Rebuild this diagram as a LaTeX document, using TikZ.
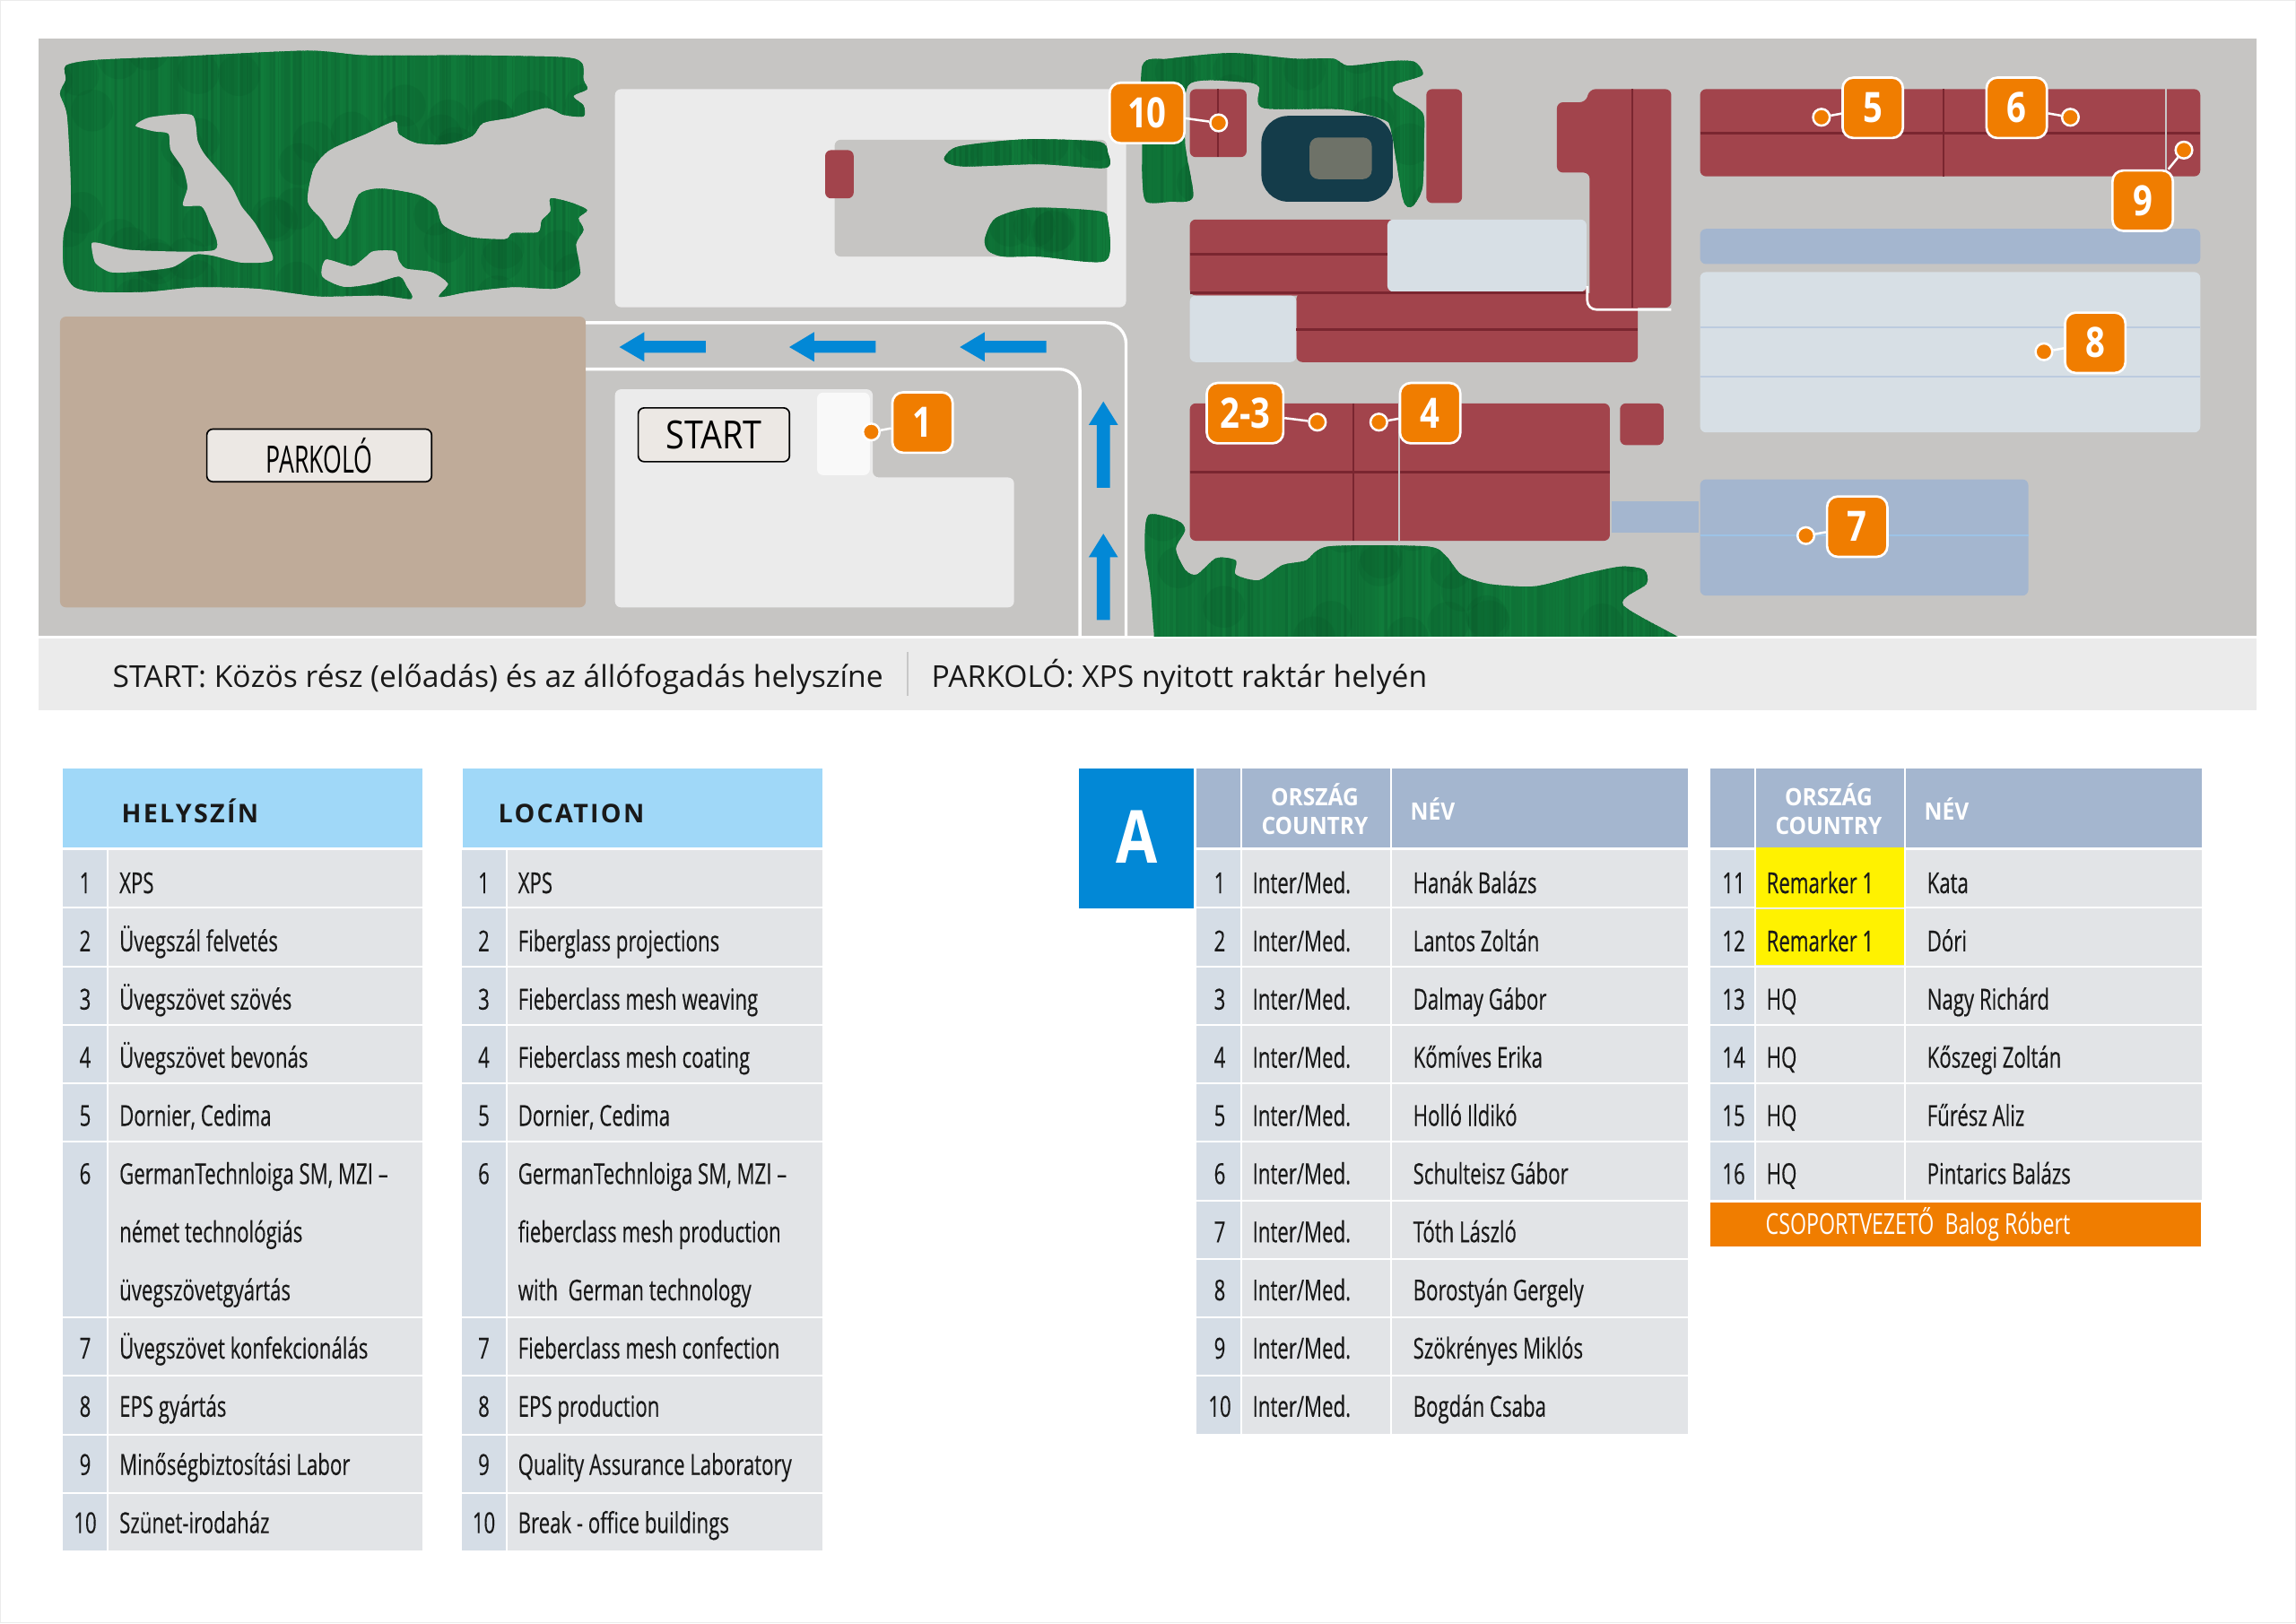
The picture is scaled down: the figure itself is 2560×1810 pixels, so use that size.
\documentclass[tikz,border=0pt]{standalone}
\usepackage{fontspec}
\setmainfont[FakeStretch=0.69,FakeBold=0.25]{Open Sans}
\newfontfamily\hdfont[LetterSpace=8]{Open Sans}
\newfontfamily\numfont[FakeStretch=0.82]{Open Sans}
\newfontfamily\bandfont{Open Sans}
\newfontfamily\colfont[FakeStretch=0.92]{Open Sans}
\newfontfamily\signAfont[FakeStretch=0.636]{Open Sans}
\newfontfamily\signBfont[FakeStretch=0.87]{Open Sans}
\newfontfamily\leadfont[FakeStretch=0.72]{Open Sans}
\definecolor{mapbg}{HTML}{C6C5C3}
\definecolor{band}{HTML}{EBEBEB}
\definecolor{brown}{HTML}{BFAB99}
\definecolor{rd}{HTML}{A2444C}
\definecolor{rdd}{HTML}{7A2630}
\definecolor{pale}{HTML}{D7DFE5}
\definecolor{blu}{HTML}{A4B6CF}
\definecolor{blul}{HTML}{BCCBDF}
\definecolor{lineseven}{HTML}{9DC3E6}
\definecolor{stad}{HTML}{143C4A}
\definecolor{stadin}{HTML}{6E7268}
\definecolor{arrowb}{HTML}{0288D6}
\definecolor{org}{HTML}{F07D00}
\definecolor{hdr}{HTML}{A0D8F8}
\definecolor{cnum}{HTML}{D5DDE6}
\definecolor{ctxt}{HTML}{E2E4E7}
\definecolor{yel}{HTML}{FFF200}
\definecolor{gA}{HTML}{0D6A33}
\definecolor{gB}{HTML}{107C3B}
\definecolor{gD}{HTML}{064A24}
\definecolor{thinline}{HTML}{C8C8C8}
\definecolor{signfill}{HTML}{ECE8E4}
\tikzset{
  zA/.style={x=0.2449pt,y=-0.1569pt},
  zB/.style={x=0.2602pt,y=-0.1569pt,xshift=360pt},
  rc/.style={rounded corners=2pt},
  road/.style={draw=white,line width=1pt,rounded corners=7pt},
  marklabel/.style={fill=org,draw=white,line width=0.8pt,rounded corners=3.6pt,text=white,yshift=-0.45pt,
     font=\numfont\bfseries\fontsize{14}{14}\selectfont,minimum height=20.2pt,minimum width=20.2pt,inner sep=0pt,text height=10pt,text depth=0pt},
  markdot/.style={circle,fill=org,draw=white,line width=0.75pt,minimum size=5.6pt,inner sep=0pt},
  markline/.style={draw=white,line width=0.75pt},
  signbox/.style={draw=black,fill=signfill,line width=0.5pt,rounded corners=2pt,inner sep=0pt},
  bandtxt/.style={anchor=base west,inner sep=0pt,font=\bandfont\fontsize{10.1}{12}\selectfont,text=black!90},
  celltxt/.style={anchor=base west,inner sep=0pt,font=\fontsize{9.66}{11}\selectfont,text=black!90},
  numtxt/.style={anchor=base,inner sep=0pt,font=\fontsize{9.66}{11}\selectfont,text=black!90},
  headtxt/.style={anchor=base west,inner sep=0pt,font=\hdfont\bfseries\fontsize{8.6}{11}\selectfont,text=black!90},
  colhead/.style={inner sep=0pt,font=\colfont\fontsize{8.0}{10}\bfseries\selectfont,text=white},
}
% forest blob with vertical mottled stripes, in the current coordinate system
\newcommand{\greenblob}[5]{% xmin xmax ymin ymax points
  \begin{scope}
    \clip plot[smooth cycle,tension=.45] coordinates {#5};
    \fill[gA!50!gB] (#1,#3) rectangle (#2,#4);
    \pgfmathsetmacro\sxnext{int(#1+4)}%
    \foreach \sx in {#1,\sxnext,...,#2}{%
      \pgfmathsetmacro\myr{int(rnd*100)}%
      \draw[color=gA!\myr!gB,line width=0.8pt] (\sx,#3) -- (\sx,#4);
    }
    \pgfmathsetmacro\nblot{int((#2-#1)/80*(#4-#3)/100)+2}%
    \foreach \i in {1,...,\nblot}{%
      \pgfmathsetmacro\px{#1+rnd*(#2-#1)}%
      \pgfmathsetmacro\py{#3+rnd*(#4-#3)}%
      \fill[gD,opacity=.13] (\px,\py) circle[radius=7pt];
    }
  \end{scope}}
\newcommand{\rowbg}[6]{%
  \pgfmathsetmacro\ytop{948+65.25*(#5-1)}%
  \pgfmathsetmacro\ybot{\ytop+65.25*#6-2}%
  \fill[cnum] (#1,\ytop) rectangle (#2,\ybot);
  \fill[ctxt] (#3,\ytop) rectangle (#4,\ybot);}
\newcommand{\basey}[1]{\pgfmathsetmacro\yb{996+64.87*(#1-1)}}
% location table row: id, table x offset, row, span, number, text
\newcommand{\locrow}[6]{%
  \rowbg{#2+70}{#2+119}{#2+121}{#2*1.0045+470.5}{#3}{#4}%
  \basey{#3}%
  \node[numtxt] (#1n) at (#2+95,\yb) {#5};
  \node[celltxt] (#1t) at (#2+132.5,\yb) {#6};}
\newcommand{\locmore}[4]{% id, offset, row, text
  \basey{#3}\node[celltxt] (#1) at (#2+132.5,\yb) {#4};}
% people row: id, table left x, row, number, country, name
\newcommand{\pplrow}[6]{%
  \rowbg{#2}{#2+49}{#2+51}{#2+216}{#3}{1}%
  \pgfmathsetmacro\ytop{948+65.25*(#3-1)}%
  \pgfmathsetmacro\ybot{\ytop+65.25-2}%
  \fill[ctxt] (#2+218,\ytop) rectangle (#2+548,\ybot);
  \basey{#3}%
  \node[numtxt] (#1n) at (#2+26,\yb) {#4};
  \node[celltxt] (#1c) at (#2+62,\yb) {#5};
  \node[celltxt] (#1v) at (#2+241,\yb) {#6};}
\newcommand{\pplhead}[2]{%
  \fill[blu] (#2,857) rectangle (#2+49,945);
  \fill[blu] (#2+51,857) rectangle (#2+216,945);
  \fill[blu] (#2+218,857) rectangle (#2+548,945);
  \node[colhead,anchor=base] (#1a) at (#2+132,898) {ORSZÁG};
  \node[colhead,anchor=base] (#1b) at (#2+132,930) {COUNTRY};
  \node[colhead,anchor=base west] (#1c) at (#2+238,914) {NÉV};}
\begin{document}
\begin{tikzpicture}[x=0.3pt,y=-0.3pt]
\useasboundingbox (0,0) rectangle (2560,1810);
\pgfmathsetseed{7}
\fill[white] (0,0) rectangle (2560,1810);
\draw[color=black!8,line width=0.4pt] (0.7,0.7) rectangle (2559.3,1809.3);
% map background and band
\fill[mapbg] (43,43) rectangle (2516,709);
\fill[band] (43,712) rectangle (2516,792);
\draw[color=black!22,line width=0.5pt] (1012,727) -- (1012,776);
\node[bandtxt] (bandA) at (125,766) {START: Közös rész (előadás) és az állófogadás helyszíne};
\node[bandtxt] (bandB) at (1038,766) {PARKOLÓ: XPS nyitott raktár helyén};

\begin{scope}[zA]
  % left forest
  \greenblob{70}{810}{100}{640}{(90,140) (130,128) (250,120) (420,108) (500,118) (640,118) (770,122) (795,135) (797,170) (802,190) (783,205) (797,225) (797,248) (770,245) (745,230) (700,250) (660,262) (645,290) (610,307) (570,305) (545,285) (540,258) (500,285) (450,320) (428,360) (420,430) (440,470) (458,510) (475,480) (490,415) (520,402) (570,415) (595,440) (605,480) (640,505) (690,510) (700,497) (735,495) (740,470) (752,450) (752,423) (780,432) (802,448) (790,465) (797,490) (787,520) (792,570) (790,590) (760,615) (700,612) (640,622) (600,633) (612,605) (590,580) (555,572) (545,555) (540,535) (510,535) (497,550) (480,567) (445,553) (440,590) (470,612) (510,605) (545,590) (555,610) (562,637) (520,630) (440,632) (400,625) (350,615) (270,612) (200,622) (130,622) (100,610) (87,570) (87,500) (97,430) (92,250) (82,200) (90,170)}
  \fill[mapbg] plot[smooth cycle,tension=.4] coordinates {(185,268) (205,250) (262,245) (270,300) (280,330) (315,395) (330,440) (350,480) (373,553) (330,560) (290,545) (265,543) (235,570) (180,580) (150,580) (130,560) (125,520) (135,518) (180,533) (293,533) (285,470) (275,440) (250,438) (256,400) (250,360) (233,320) (230,285) (210,280)};
  % parking
  \fill[brown,rc] (82,675) rectangle (800,1295);
  % middle white area
  \fill[band,rc] (840,190) rectangle (1538,655);
  \fill[mapbg,rc] (1140,298) rectangle (1512,547);
  \fill[rd,rc] (1127,320) rectangle (1166,423);
  \greenblob{1280}{1520}{290}{365}{(1290,335) (1310,312) (1400,297) (1500,302) (1513,325) (1510,358) (1420,350) (1320,355) (1295,348)}
  \greenblob{1340}{1520}{440}{560}{(1345,510) (1360,465) (1410,443) (1500,450) (1513,470) (1510,556) (1420,547) (1370,547) (1350,535)}
  % roads
  \draw[road] (800,688) -- (1538,688) -- (1538,1356);
  \draw[road] (800,787) -- (1475,787) -- (1475,1356);
  % arrows
  \foreach \tx in {846,1078,1311}{
    \fill[arrowb] (\tx,740) -- (\tx+34,708) -- (\tx+34,727) -- (\tx+118,727) -- (\tx+118,752) -- (\tx+34,752) -- (\tx+34,771) -- cycle;
  }
  \foreach \ty in {856,1138}{
    \fill[arrowb] (1507,\ty) -- (1527,\ty+50) -- (1516,\ty+50) -- (1516,\ty+184) -- (1498,\ty+184) -- (1498,\ty+50) -- (1487,\ty+50) -- cycle;
  }
  % start building
  \fill[band,rc] (840,830) -- (1192,830) -- (1192,1018) -- (1385,1018) -- (1385,1295) -- (840,1295) -- cycle;
  \fill[white,opacity=.75,rc] (1116,837) rectangle (1188,1013);
  % signs
  \node[signbox,font=\signAfont\fontsize{12.6}{13}\selectfont,minimum width=75.2pt,minimum height=17.6pt] (parkolo) at (436,971) {PARKOLÓ};
  \node[signbox,font=\signBfont\fontsize{13}{13}\selectfont,minimum width=50.6pt,minimum height=18pt] (start) at (975,927) {\raisebox{-0.6pt}{START}};
  % marker 1
  \node[marklabel] (m1) at (1260,898) {1};
  \node[markdot] (d1) at (1190,921) {};
  \draw[markline] (m1) -- (d1);
\end{scope}

\begin{scope}[zB]
  % bottom forest
  \begin{scope}
    \clip (0,1000) rectangle (900,1356);
    \greenblob{70}{800}{1090}{1360}{(93,1098) (130,1110) (140,1130) (128,1170) (140,1215) (155,1225) (180,1190) (205,1195) (205,1225) (235,1237) (265,1205) (295,1195) (325,1165) (450,1165) (475,1185) (495,1225) (530,1245) (590,1250) (650,1225) (700,1208) (730,1215) (733,1245) (703,1290) (790,1375) (790,1420) (100,1420) (100,1356) (95,1250) (88,1170)}
  \end{scope}
  % upper forest
  \greenblob{70}{460}{105}{445}{(85,140) (120,125) (200,113) (280,125) (330,125) (350,140) (405,130) (435,132) (445,160) (410,180) (410,200) (445,240) (447,300) (445,400) (432,440) (420,425) (405,280) (395,255) (340,233) (240,230) (235,185) (215,175) (145,180) (140,305) (150,420) (120,430) (90,430) (85,380) (85,300)}
  % buildings
  \fill[rd,rc] (146,190) rectangle (219,335);
  \draw[rdd,line width=0.5pt] (182,190) -- (182,335);
  \fill[rd,rc] (450,190) rectangle (496,433);
  \fill[stad,rounded corners=9pt] (238,247) rectangle (407,430);
  \fill[stadin,rounded corners=3pt] (300,293) rectangle (380,382);
  % big red complex
  \fill[rd,rc] (146,468) rectangle (410,630);
  \fill[rd,rc] (283,625) rectangle (722,772);
  \fill[rd] (400,600) rectangle (656,628);
  \fill[pale,rc] (400,468) rectangle (656,622);
  \fill[pale,rc] (146,630) rectangle (283,772);
  \draw[rdd,line width=0.9pt] (146,542) -- (400,542);
  \draw[rdd,line width=0.9pt] (146,625) -- (656,625);
  \draw[rdd,line width=0.9pt] (283,702) -- (722,702);
  % L-shape
  \draw[white,line width=0.8pt,rounded corners=3pt] (657,610) -- (657,660) -- (765,660);
  \fill[rd,rc] (660,190) -- (765,190) -- (765,656) -- (660,656) -- (660,368) -- (618,368) -- (618,218) -- (655,218) -- cycle;
  \draw[rdd,line width=0.7pt] (715,190) -- (715,656);
  % lower red building
  \fill[rd,rc] (146,860) rectangle (686,1153);
  \draw[rdd,line width=0.7pt] (356,860) -- (356,1153);
  \draw[rdd,line width=0.9pt] (146,1007) -- (686,1007);
  \draw[thinline,line width=0.7pt] (415,860) -- (415,1153);
  \fill[rd,rc] (699,860) rectangle (755,949);
  % 7
  \fill[blu] (688,1068) rectangle (800,1136);
  \fill[blu,rc] (802,1022) rectangle (1224,1270);
  \draw[color=lineseven,line width=0.7pt] (802,1141) -- (1224,1141);
  % 8
  \fill[blu,rc] (802,488) rectangle (1445,563);
  \fill[pale,rc] (802,580) rectangle (1445,922);
  \draw[blul,line width=0.7pt] (802,698) -- (1445,698);
  \draw[blul,line width=0.7pt] (802,803) -- (1445,803);
  % 5-6
  \fill[rd,rc] (802,190) rectangle (1445,376);
  \draw[rdd,line width=0.9pt] (802,283) -- (1445,283);
  \draw[rdd,line width=0.8pt] (1115,190) -- (1115,376);
  \draw[thinline,line width=0.8pt] (1401,190) -- (1401,376);
  % markers
  \node[marklabel,minimum width=25pt] (m10) at (91,238) {10};
  \node[markdot] (d10) at (183,262) {};
  \draw[markline] (m10) -- (d10);
  \node[marklabel] (m5) at (1024,227) {5};
  \node[markdot] (d5) at (958,250) {};
  \draw[markline] (m5) -- (d5);
  \node[marklabel] (m6) at (1209,227) {6};
  \node[markdot] (d6) at (1278,250) {};
  \draw[markline] (m6) -- (d6);
  \node[marklabel] (m9) at (1371,425) {9};
  \node[markdot] (d9) at (1424,320) {};
  \draw[markline] (m9) -- (d9);
  \node[marklabel] (m8) at (1310,728) {8};
  \node[markdot] (d8) at (1244,750) {};
  \draw[markline] (m8) -- (d8);
  \node[marklabel] (m7) at (1004,1120) {7};
  \node[markdot] (d7) at (938,1142) {};
  \draw[markline] (m7) -- (d7);
  \node[marklabel,minimum width=25.6pt] (m23) at (217,878) {2-3};
  \node[markdot] (d23) at (310,900) {};
  \draw[markline] (m23) -- (d23);
  \node[marklabel] (m4) at (455,878) {4};
  \node[markdot] (d4) at (389,900) {};
  \draw[markline] (m4) -- (d4);
\end{scope}

% location tables
\fill[hdr] (70,857) rectangle (470.5,945);
\fill[hdr] (516,857) rectangle (917,945);
\node[headtxt] (hdA) at (135,917) {HELYSZÍN};
\node[headtxt] (hdB) at (555,917) {LOCATION};
\locrow{a1}{0}{1}{1}{1}{XPS}
\locrow{a2}{0}{2}{1}{2}{Üvegszál felvetés}
\locrow{a3}{0}{3}{1}{3}{Üvegszövet szövés}
\locrow{a4}{0}{4}{1}{4}{Üvegszövet bevonás}
\locrow{a5}{0}{5}{1}{5}{Dornier, Cedima}
\locrow{a6}{0}{6}{3}{6}{GermanTechnloiga SM, MZI –}
\locmore{a6b}{0}{7}{német technológiás}
\locmore{a6c}{0}{8}{üvegszövetgyártás}
\locrow{a7}{0}{9}{1}{7}{Üvegszövet konfekcionálás}
\locrow{a8}{0}{10}{1}{8}{EPS gyártás}
\locrow{a9}{0}{11}{1}{9}{Minőségbiztosítási Labor}
\locrow{a10}{0}{12}{1}{10}{Szünet-irodaház}
\locrow{b1}{444.5}{1}{1}{1}{XPS}
\locrow{b2}{444.5}{2}{1}{2}{Fiberglass projections}
\locrow{b3}{444.5}{3}{1}{3}{Fieberclass mesh weaving}
\locrow{b4}{444.5}{4}{1}{4}{Fieberclass mesh coating}
\locrow{b5}{444.5}{5}{1}{5}{Dornier, Cedima}
\locrow{b6}{444.5}{6}{3}{6}{GermanTechnloiga SM, MZI –}
\locmore{b6b}{444.5}{7}{fieberclass mesh production}
\locmore{b6c}{444.5}{8}{with\ \ German technology}
\locrow{b7}{444.5}{9}{1}{7}{Fieberclass mesh confection}
\locrow{b8}{444.5}{10}{1}{8}{EPS production}
\locrow{b9}{444.5}{11}{1}{9}{Quality Assurance Laboratory}
\locrow{b10}{444.5}{12}{1}{10}{Break - office buildings}

% group A
\fill[arrowb] (1203,857) rectangle (1331,1012.5);
\node[inner sep=0pt,text=white,font=\numfont\bfseries\fontsize{24.5}{26}\selectfont,anchor=base] (groupA) at (1268,962.5) {A};
\pplhead{pa}{1334}
\pplhead{pb}{1907}
\pplrow{p1}{1334}{1}{1}{Inter/Med.}{Hanák Balázs}
\pplrow{p2}{1334}{2}{2}{Inter/Med.}{Lantos Zoltán}
\pplrow{p3}{1334}{3}{3}{Inter/Med.}{Dalmay Gábor}
\pplrow{p4}{1334}{4}{4}{Inter/Med.}{Kőmíves Erika}
\pplrow{p5}{1334}{5}{5}{Inter/Med.}{Holló Ildikó}
\pplrow{p6}{1334}{6}{6}{Inter/Med.}{Schulteisz Gábor}
\pplrow{p7}{1334}{7}{7}{Inter/Med.}{Tóth László}
\pplrow{p8}{1334}{8}{8}{Inter/Med.}{Borostyán Gergely}
\pplrow{p9}{1334}{9}{9}{Inter/Med.}{Szökrényes Miklós}
\pplrow{p10}{1334}{10}{10}{Inter/Med.}{Bogdán Csaba}
\pplrow{p11}{1907}{1}{11}{}{Kata}
\pplrow{p12}{1907}{2}{12}{}{Dóri}
\fill[yel] (1958,945) rectangle (2123,1011.5);
\fill[yel] (1958,1013.5) rectangle (2123,1076);
\node[celltxt] (y11) at (1969,996) {Remarker 1};
\node[celltxt] (y12) at (1969,1060.9) {Remarker 1};
\pplrow{p13}{1907}{3}{13}{HQ}{Nagy Richárd}
\pplrow{p14}{1907}{4}{14}{HQ}{Kőszegi Zoltán}
\pplrow{p15}{1907}{5}{15}{HQ}{Fűrész Aliz}
\pplrow{p16}{1907}{6}{16}{HQ}{Pintarics Balázs}
\fill[org] (1907,1341) rectangle (2454,1390);
\node[celltxt,text=white,font=\leadfont\fontsize{9.66}{11}\selectfont] (lead) at (1968,1376) {CSOPORTVEZETŐ\ \ Balog Róbert};
\end{tikzpicture}
\end{document}
